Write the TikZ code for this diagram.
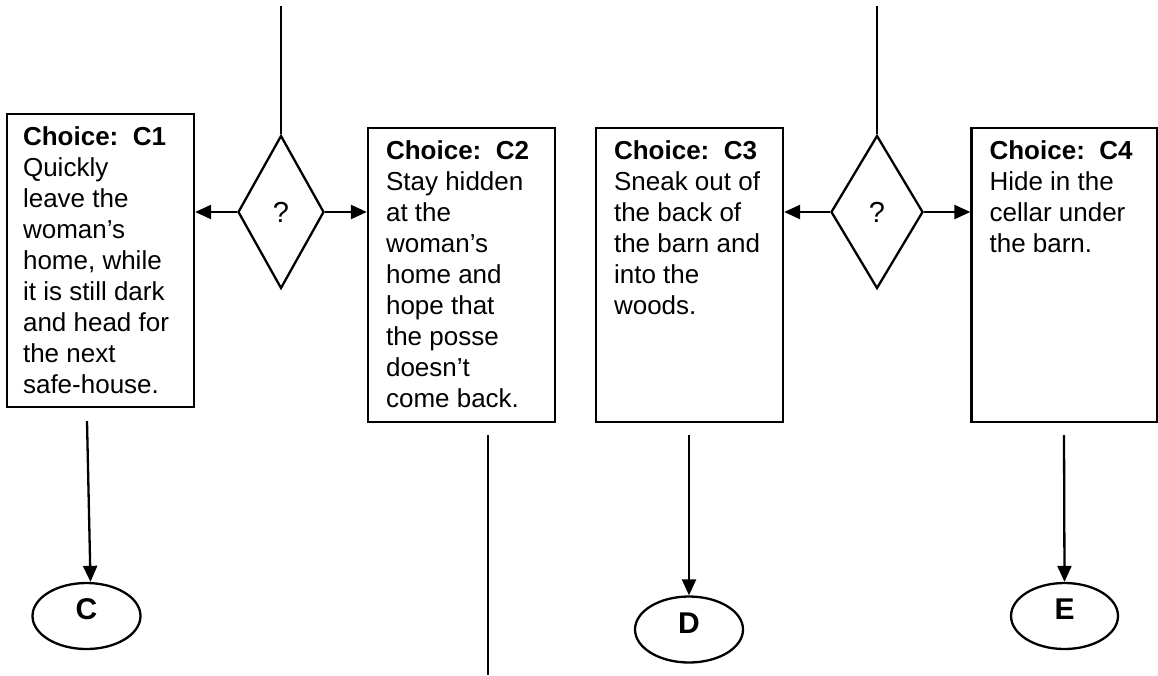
\documentclass[tikz,border=0pt]{standalone}
\usepackage{fontspec}
\setmainfont{Liberation Sans}
\usetikzlibrary{shapes.geometric,arrows.meta}

\tikzset{
  choicebox/.style={draw, line width=2.3pt, rectangle, inner sep=0pt, minimum width=187pt, minimum height=294pt},
  choicetext/.style={anchor=north west, inner sep=0pt, align=left, font=\fontsize{26}{31}\selectfont},
  decision/.style={draw, line width=2.3pt, diamond, inner sep=0pt, font=\fontsize{29}{31}\selectfont},
  endpoint/.style={draw, line width=2.3pt, ellipse, inner sep=0pt, minimum width=108pt, minimum height=66pt},
  endletter/.style={inner sep=0pt, font=\fontsize{30}{31}\selectfont\bfseries},
  conn/.style={line width=2.3pt},
  thinconn/.style={line width=1.6pt},
  arr/.style={line width=2.3pt, -{Triangle[length=16pt,width=14pt]}}
}
\newcommand{\firstline}{\rule{0pt}{22pt}}

\begin{document}
\begin{tikzpicture}[x=1pt, y=-1pt]
  \useasboundingbox (0,0) rectangle (1158,675);

  % choice boxes
  \node[choicebox, minimum height=293pt] (c1) at (100.5,260.5) {};
  \node[choicebox] (c2) at (461.5,275) {};
  \node[choicebox] (c3) at (689.5,275) {};
  \node[choicebox, minimum width=186pt] (c4) at (1064.5,275) {};

  % box texts (first baseline 32 below the top edge)
  \node[choicetext] (t1) at ([xshift=17pt,yshift=-10pt]c1.north west)
    {\firstline\textbf{Choice:\ \ C1}\\Quickly\\leave the\\woman’s\\home, while\\it is still dark\\and head for\\the next\\safe-house.};
  \node[choicetext] (t2) at ([xshift=19pt,yshift=-10pt]c2.north west)
    {\firstline\textbf{Choice:\ \ C2}\\Stay hidden\\at the\\woman’s\\home and\\hope that\\the posse\\doesn’t\\come back.};
  \node[choicetext] (t3) at ([xshift=19pt,yshift=-10pt]c3.north west)
    {\firstline\textbf{Choice:\ \ C3}\\Sneak out of\\the back of\\the barn and\\into the\\woods.};
  \node[choicetext] (t4) at ([xshift=19pt,yshift=-10pt]c4.north west)
    {\firstline\textbf{Choice:\ \ C4}\\Hide in the\\cellar under\\the barn.};

  % decision diamonds
  \node[decision, minimum width=86pt, minimum height=153pt] (d1) at (281,212) {?};
  \node[decision, minimum width=92pt, minimum height=153pt] (d2) at (877,212) {?};

  % incoming lines from above
  \coordinate (in1) at (281,6);
  \coordinate (in2) at (877,6);
  \draw[conn] (in1) -- (d1.north);
  \draw[conn] (in2) -- (d2.north);

  % branches
  \draw[arr] (d1.west) -- (d1.west -| c1.east);
  \draw[arr] (d1.east) -- (d1.east -| c2.west);
  \draw[arr] (d2.west) -- (d2.west -| c3.east);
  \draw[arr] (d2.east) -- (d2.east -| c4.west);

  % end points
  \node[endpoint] (eC) at (86.5,616) {};
  \node[endpoint] (eD) at (689,629.5) {};
  \node[endpoint, minimum width=107pt] (eE) at (1064.5,616) {};
  \node[endletter] (lC) at ([yshift=7pt]eC.center) {C};
  \node[endletter] (lD) at ([yshift=6pt]eD.center) {D};
  \node[endletter] (lE) at ([yshift=7pt]eE.center) {E};

  % outgoing connectors
  \coordinate (o1) at (87,421);
  \coordinate (o2) at (488,435);
  \coordinate (o2end) at (488,675);
  \coordinate (o3) at (689,435);
  \coordinate (o4) at (1064,435);
  \draw[arr] (o1) -- ([xshift=4pt]eC.north);
  \draw[thinconn] (o2) -- (o2end);
  \draw[arr] (o3) -- (eD.north);
  \draw[arr] (o4) -- (eE.north);
\end{tikzpicture}
\end{document}
